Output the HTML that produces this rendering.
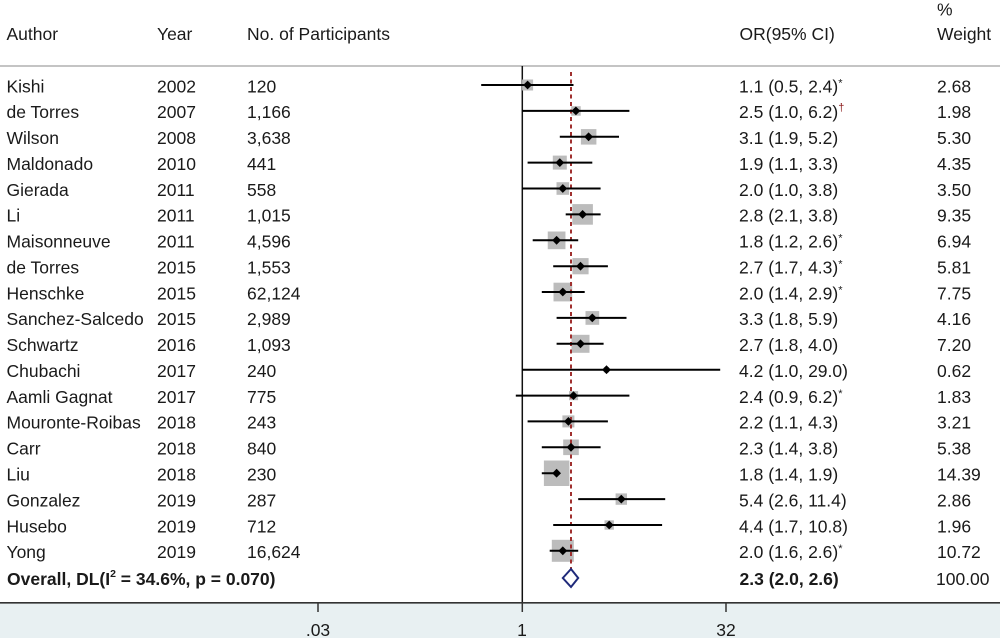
<!DOCTYPE html>
<html>
<head>
<meta charset="utf-8">
<style>
html,body{margin:0;padding:0;background:#fff;}
svg{display:block;}
text{font-family:"Liberation Sans",Arial,sans-serif;font-size:17.5px;fill:#1a1a1a;}
.b{font-weight:bold;}
</style>
</head>
<body>
<svg width="1000" height="638" viewBox="0 0 1000 638" xmlns="http://www.w3.org/2000/svg">
<rect x="0" y="0" width="1000" height="638" fill="#ffffff"/>
<rect x="0" y="603" width="1000" height="35" fill="#e8f0f2"/>

<!-- header -->
<text x="6.5" y="40">Author</text>
<text x="157" y="40">Year</text>
<text x="247" y="40">No. of Participants</text>
<text x="739.5" y="40">OR(95% CI)</text>
<text x="937" y="15.5">%</text>
<text x="937" y="40">Weight</text>
<rect x="0" y="65" width="1000" height="2" fill="#c4c4c4"/>

<!-- null line -->
<line x1="522.3" y1="66" x2="522.3" y2="602" stroke="#111" stroke-width="1.5"/>

<!-- boxes -->
<g fill="#bcbcbc">
<rect x="522.1" y="79.5" width="11" height="11"/>
<rect x="571.2" y="106.2" width="9.5" height="9.5"/>
<rect x="580.9" y="129.1" width="15.5" height="15.5"/>
<rect x="552.8" y="155.6" width="14" height="14"/>
<rect x="556.5" y="182.2" width="12.6" height="12.6"/>
<rect x="572.3" y="204.1" width="20.6" height="20.6"/>
<rect x="547.75" y="231.5" width="17.7" height="17.7"/>
<rect x="572.4" y="258.1" width="16.2" height="16.2"/>
<rect x="553.5" y="282.7" width="18.7" height="18.7"/>
<rect x="585.5" y="311.1" width="13.7" height="13.7"/>
<rect x="571.5" y="334.8" width="18" height="18"/>
<rect x="603.8" y="367.1" width="5.3" height="5.3"/>
<rect x="569" y="391.1" width="9.1" height="9.1"/>
<rect x="562.4" y="415.4" width="12" height="12"/>
<rect x="563.2" y="439.5" width="15.6" height="15.6"/>
<rect x="543.9" y="460.5" width="25.5" height="25.5"/>
<rect x="615.6" y="493.4" width="11.4" height="11.4"/>
<rect x="604.5" y="520.3" width="9.4" height="9.4"/>
<rect x="551.8" y="539.8" width="22" height="22"/>
</g>

<!-- dashed overall line -->
<line x1="571" y1="72" x2="571" y2="589" stroke="#a0302f" stroke-width="2" stroke-dasharray="4,3.5"/>

<!-- CI lines -->
<g stroke="#000" stroke-width="2">
<line x1="481.2" y1="85" x2="573.5" y2="85"/>
<line x1="522" y1="110.9" x2="629.4" y2="110.9"/>
<line x1="559.8" y1="136.8" x2="619" y2="136.8"/>
<line x1="527.6" y1="162.6" x2="592.3" y2="162.6"/>
<line x1="522" y1="188.5" x2="600.6" y2="188.5"/>
<line x1="565.7" y1="214.4" x2="600.6" y2="214.4"/>
<line x1="532.7" y1="240.3" x2="578.2" y2="240.3"/>
<line x1="553.2" y1="266.2" x2="607.9" y2="266.2"/>
<line x1="541.8" y1="292" x2="584.7" y2="292"/>
<line x1="556.6" y1="317.9" x2="626.5" y2="317.9"/>
<line x1="556.6" y1="343.8" x2="603.6" y2="343.8"/>
<line x1="522" y1="369.7" x2="720.2" y2="369.7"/>
<line x1="515.8" y1="395.6" x2="629.4" y2="395.6"/>
<line x1="527.6" y1="421.4" x2="607.9" y2="421.4"/>
<line x1="541.8" y1="447.3" x2="600.6" y2="447.3"/>
<line x1="541.8" y1="473.2" x2="559.8" y2="473.2"/>
<line x1="578.2" y1="499.1" x2="665.2" y2="499.1"/>
<line x1="553.2" y1="525" x2="662.1" y2="525"/>
<line x1="549.7" y1="550.8" x2="578.2" y2="550.8"/>
</g>

<!-- point markers -->
<g fill="#000">
<polygon points="523.2,85 527.6,80.6 532,85 527.6,89.4"/>
<polygon points="571.5,110.9 575.9,106.5 580.3,110.9 575.9,115.3"/>
<polygon points="584.2,136.8 588.6,132.4 593,136.8 588.6,141.2"/>
<polygon points="555.4,162.6 559.8,158.2 564.2,162.6 559.8,167"/>
<polygon points="558.4,188.5 562.8,184.1 567.2,188.5 562.8,192.9"/>
<polygon points="578.2,214.4 582.6,210 587,214.4 582.6,218.8"/>
<polygon points="552.2,240.3 556.6,235.9 561,240.3 556.6,244.7"/>
<polygon points="576.1,266.2 580.5,261.8 584.9,266.2 580.5,270.6"/>
<polygon points="558.4,292 562.8,287.6 567.2,292 562.8,296.4"/>
<polygon points="587.9,317.9 592.3,313.5 596.7,317.9 592.3,322.3"/>
<polygon points="576.1,343.8 580.5,339.4 584.9,343.8 580.5,348.2"/>
<polygon points="602.1,369.7 606.5,365.3 610.9,369.7 606.5,374.1"/>
<polygon points="569.1,395.6 573.5,391.2 577.9,395.6 573.5,400"/>
<polygon points="564,421.4 568.4,417 572.8,421.4 568.4,425.8"/>
<polygon points="566.6,447.3 571,442.9 575.4,447.3 571,451.7"/>
<polygon points="552.2,473.2 556.6,468.8 561,473.2 556.6,477.6"/>
<polygon points="616.9,499.1 621.3,494.7 625.7,499.1 621.3,503.5"/>
<polygon points="604.8,525 609.2,520.6 613.6,525 609.2,529.4"/>
<polygon points="558.4,550.8 562.8,546.4 567.2,550.8 562.8,555.2"/>
</g>

<!-- overall diamond -->
<polygon points="562.8,578 571,569 578.2,578 571,587" fill="#fff" stroke="#1f2a7a" stroke-width="2"/>

<!-- row text -->
<g>
<text x="6.5" y="92.3">Kishi</text><text x="157" y="92.3">2002</text><text x="247" y="92.3">120</text><text x="739" y="92.3">1.1 (0.5, 2.4)<tspan font-size="11" dy="-6">*</tspan></text><text x="937" y="92.3">2.68</text>
<text x="6.5" y="118.2">de Torres</text><text x="157" y="118.2">2007</text><text x="247" y="118.2">1,166</text><text x="739" y="118.2">2.5 (1.0, 6.2)<tspan font-size="11" dy="-7" style="fill:#8b1a1a">†</tspan></text><text x="937" y="118.2">1.98</text>
<text x="6.5" y="144.1">Wilson</text><text x="157" y="144.1">2008</text><text x="247" y="144.1">3,638</text><text x="739" y="144.1">3.1 (1.9, 5.2)</text><text x="937" y="144.1">5.30</text>
<text x="6.5" y="169.9">Maldonado</text><text x="157" y="169.9">2010</text><text x="247" y="169.9">441</text><text x="739" y="169.9">1.9 (1.1, 3.3)</text><text x="937" y="169.9">4.35</text>
<text x="6.5" y="195.8">Gierada</text><text x="157" y="195.8">2011</text><text x="247" y="195.8">558</text><text x="739" y="195.8">2.0 (1.0, 3.8)</text><text x="937" y="195.8">3.50</text>
<text x="6.5" y="221.7">Li</text><text x="157" y="221.7">2011</text><text x="247" y="221.7">1,015</text><text x="739" y="221.7">2.8 (2.1, 3.8)</text><text x="937" y="221.7">9.35</text>
<text x="6.5" y="247.6">Maisonneuve</text><text x="157" y="247.6">2011</text><text x="247" y="247.6">4,596</text><text x="739" y="247.6">1.8 (1.2, 2.6)<tspan font-size="11" dy="-6">*</tspan></text><text x="937" y="247.6">6.94</text>
<text x="6.5" y="273.5">de Torres</text><text x="157" y="273.5">2015</text><text x="247" y="273.5">1,553</text><text x="739" y="273.5">2.7 (1.7, 4.3)<tspan font-size="11" dy="-6">*</tspan></text><text x="937" y="273.5">5.81</text>
<text x="6.5" y="299.3">Henschke</text><text x="157" y="299.3">2015</text><text x="247" y="299.3">62,124</text><text x="739" y="299.3">2.0 (1.4, 2.9)<tspan font-size="11" dy="-6">*</tspan></text><text x="937" y="299.3">7.75</text>
<text x="6.5" y="325.2">Sanchez-Salcedo</text><text x="157" y="325.2">2015</text><text x="247" y="325.2">2,989</text><text x="739" y="325.2">3.3 (1.8, 5.9)</text><text x="937" y="325.2">4.16</text>
<text x="6.5" y="351.1">Schwartz</text><text x="157" y="351.1">2016</text><text x="247" y="351.1">1,093</text><text x="739" y="351.1">2.7 (1.8, 4.0)</text><text x="937" y="351.1">7.20</text>
<text x="6.5" y="377">Chubachi</text><text x="157" y="377">2017</text><text x="247" y="377">240</text><text x="739" y="377">4.2 (1.0, 29.0)</text><text x="937" y="377">0.62</text>
<text x="6.5" y="402.9">Aamli Gagnat</text><text x="157" y="402.9">2017</text><text x="247" y="402.9">775</text><text x="739" y="402.9">2.4 (0.9, 6.2)<tspan font-size="11" dy="-6">*</tspan></text><text x="937" y="402.9">1.83</text>
<text x="6.5" y="428.7">Mouronte-Roibas</text><text x="157" y="428.7">2018</text><text x="247" y="428.7">243</text><text x="739" y="428.7">2.2 (1.1, 4.3)</text><text x="937" y="428.7">3.21</text>
<text x="6.5" y="454.6">Carr</text><text x="157" y="454.6">2018</text><text x="247" y="454.6">840</text><text x="739" y="454.6">2.3 (1.4, 3.8)</text><text x="937" y="454.6">5.38</text>
<text x="6.5" y="480.5">Liu</text><text x="157" y="480.5">2018</text><text x="247" y="480.5">230</text><text x="739" y="480.5">1.8 (1.4, 1.9)</text><text x="937" y="480.5">14.39</text>
<text x="6.5" y="506.4">Gonzalez</text><text x="157" y="506.4">2019</text><text x="247" y="506.4">287</text><text x="739" y="506.4">5.4 (2.6, 11.4)</text><text x="937" y="506.4">2.86</text>
<text x="6.5" y="532.3">Husebo</text><text x="157" y="532.3">2019</text><text x="247" y="532.3">712</text><text x="739" y="532.3">4.4 (1.7, 10.8)</text><text x="937" y="532.3">1.96</text>
<text x="6.5" y="558.1">Yong</text><text x="157" y="558.1">2019</text><text x="247" y="558.1">16,624</text><text x="739" y="558.1">2.0 (1.6, 2.6)<tspan font-size="11" dy="-6">*</tspan></text><text x="937" y="558.1">10.72</text>
</g>

<!-- overall row -->
<text class="b" x="7" y="585">Overall, DL(I<tspan font-size="10.5" dy="-8">2</tspan><tspan dy="8"> = 34.6%, p = 0.070)</tspan></text>
<text class="b" x="739.5" y="585">2.3 (2.0, 2.6)</text>
<text x="936" y="585">100.00</text>

<!-- x axis -->
<line x1="0" y1="602.8" x2="1000" y2="602.8" stroke="#333" stroke-width="1.6"/>
<g stroke="#333" stroke-width="1.5">
<line x1="318" y1="603" x2="318" y2="612"/>
<line x1="522.3" y1="603" x2="522.3" y2="612"/>
<line x1="726" y1="603" x2="726" y2="612"/>
</g>
<text x="318" y="636" text-anchor="middle">.03</text>
<text x="522" y="636" text-anchor="middle">1</text>
<text x="726" y="636" text-anchor="middle">32</text>
</svg>
</body>
</html>
